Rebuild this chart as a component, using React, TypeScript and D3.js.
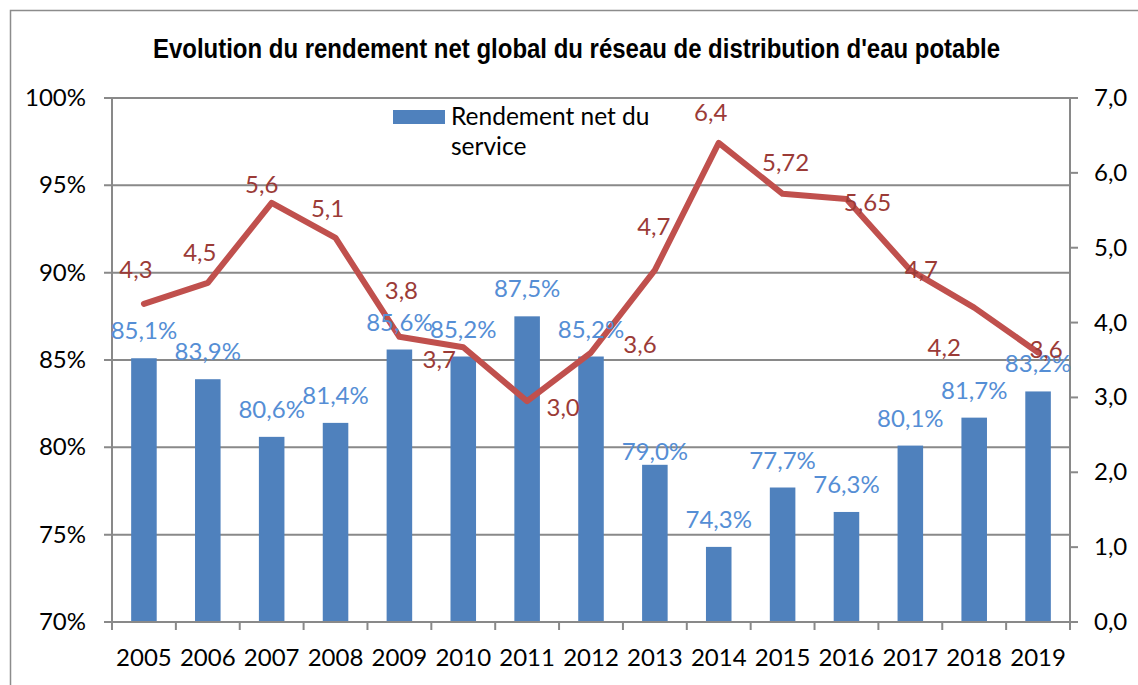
import React from "react";
import * as d3 from "d3";

const years = ["2005","2006","2007","2008","2009","2010","2011","2012","2013","2014","2015","2016","2017","2018","2019"];
const rendement = [85.1, 83.9, 80.6, 81.4, 85.6, 85.2, 87.5, 85.2, 79.0, 74.3, 77.7, 76.3, 80.1, 81.7, 83.2];
const indice = [4.25, 4.53, 5.6, 5.13, 3.81, 3.67, 2.95, 3.6, 4.7, 6.4, 5.72, 5.65, 4.7, 4.2, 3.6];
const indiceLabels = ["4,3","4,5","5,6","5,1","3,8","3,7","3,0","3,6","4,7","6,4","5,72","5,65","4,7","4,2","3,6"];
const leftTicks = [70, 75, 80, 85, 90, 95, 100];
const rightTicks = [0, 1, 2, 3, 4, 5, 6, 7];
const title = "Evolution du rendement net global du réseau de distribution d'eau potable";
const legendLines = ["Rendement net du", "service"];

// label placement (manual offsets as in the original chart), [dx, dy baseline]
const lineLabelOffsets: [number, number][] = [
  [-8, -26], [-8, -22], [-10, -10], [-8, -21], [2, -38], [-24, 21], [36, 15], [49, 0],
  [-1, -35], [-8, -22], [3, -23], [21, 12], [11, 8], [-30, 48], [8, 5],
];
const barLabelDy = [-19, -19, -19, -19, -19, -19, -19, -19, -5, -19, -19, -19, -19, -19, -19];

const W = 1138, H = 685;
const L = 112, R = 1070, T = 98, B = 622;
const FONT = "Lato, 'Open Sans', sans-serif";
const FS = 24;
const GRID = "#898989";

export default function App() {
  const x = d3.scaleBand<string>().domain(years).range([L, R]).paddingInner(0.6).paddingOuter(0.3);
  const yL = d3.scaleLinear().domain([70, 100]).range([B, T]);
  const yR = d3.scaleLinear().domain([0, 7]).range([B, T]);
  const cx = (i: number) => (x(years[i]) as number) + x.bandwidth() / 2;
  const line = d3.line<number>().x((_, i) => cx(i)).y((d) => yR(d));
  const fmtPct = (v: number) => d3.format(".1f")(v).replace(".", ",") + "%";
  const fmtR = (v: number) => d3.format(".1f")(v).replace(".", ",");
  const step = x.step();
  const boundaries = d3.range(years.length + 1).map((i) => L + i * step);

  return (
    <svg width={W} height={H} style={{ position: "absolute", left: 0, top: 0, background: "#fff" }}>
      <rect x={10.5} y={10.5} width={W + 20} height={H + 20} fill="#fff" stroke="#8c8c8c" strokeWidth={1.5} />
      <text x={153} y={58} textLength={847} lengthAdjust="spacingAndGlyphs" fontFamily="'Liberation Sans Narrow', 'Arial Narrow', 'Liberation Sans', sans-serif" fontWeight="bold" fontSize={27} fill="#000">
        {title}
      </text>
      {/* gridlines */}
      {leftTicks.map((t) => (
        <line key={"g" + t} x1={L - 8} x2={R + 0} y1={yL(t)} y2={yL(t)} stroke={GRID} strokeWidth={2} />
      ))}
      {rightTicks.map((t) => (
        <line key={"rt" + t} x1={R} x2={R + 8} y1={yR(t)} y2={yR(t)} stroke={GRID} strokeWidth={2} />
      ))}
      {/* bars */}
      {rendement.map((v, i) => (
        <rect key={"b" + i} x={x(years[i])} y={yL(v)} width={x.bandwidth()} height={B - yL(v)} fill="#4F81BD" />
      ))}
      {/* axes */}
      <line x1={L} x2={L} y1={T} y2={B} stroke={GRID} strokeWidth={2} />
      <line x1={R} x2={R} y1={T} y2={B + 8} stroke={GRID} strokeWidth={2} />
      <line x1={L - 8} x2={R + 8} y1={B} y2={B} stroke={GRID} strokeWidth={2} />
      {boundaries.map((bx, i) => (
        <line key={"xt" + i} x1={bx} x2={bx} y1={B} y2={B + 8} stroke={GRID} strokeWidth={2} />
      ))}
      {leftTicks.map((t) => (
        <text key={"lt" + t} x={86} y={yL(t) + 8} textAnchor="end" fontFamily={FONT} fontSize={FS} fill="#000">
          {t}%
        </text>
      ))}
      {rightTicks.map((t) => (
        <text key={"rl" + t} x={1094} y={yR(t) + 8} textAnchor="start" fontFamily={FONT} fontSize={FS} fill="#000">
          {fmtR(t)}
        </text>
      ))}
      {years.map((yr, i) => (
        <text key={"xl" + yr} x={cx(i)} y={666} textAnchor="middle" fontFamily={FONT} fontSize={FS} fill="#000">
          {yr}
        </text>
      ))}
      {/* line */}
      <path d={line(indice) || ""} fill="none" stroke="#C0504D" strokeWidth={6} strokeLinejoin="round" strokeLinecap="round" />
      {/* bar labels */}
      {rendement.map((v, i) => (
        <text key={"bl" + i} x={cx(i)} y={yL(v) + barLabelDy[i]} textAnchor="middle" fontFamily={FONT} fontSize={FS} fill="#558ED5">
          {fmtPct(v)}
        </text>
      ))}
      {/* line labels */}
      {indice.map((v, i) => (
        <text key={"ll" + i} x={cx(i) + lineLabelOffsets[i][0]} y={yR(v) + lineLabelOffsets[i][1]} textAnchor="middle" fontFamily={FONT} fontSize={FS} fill="#9B3B37">
          {indiceLabels[i]}
        </text>
      ))}
      {/* legend */}
      <rect x={393} y={110} width={52} height={14} fill="#4F81BD" />
      {legendLines.map((s, i) => (
        <text key={"lg" + i} x={451} y={125 + i * 30} fontFamily={FONT} fontSize={FS + 0.5} fill="#000">
          {s}
        </text>
      ))}
    </svg>
  );
}
